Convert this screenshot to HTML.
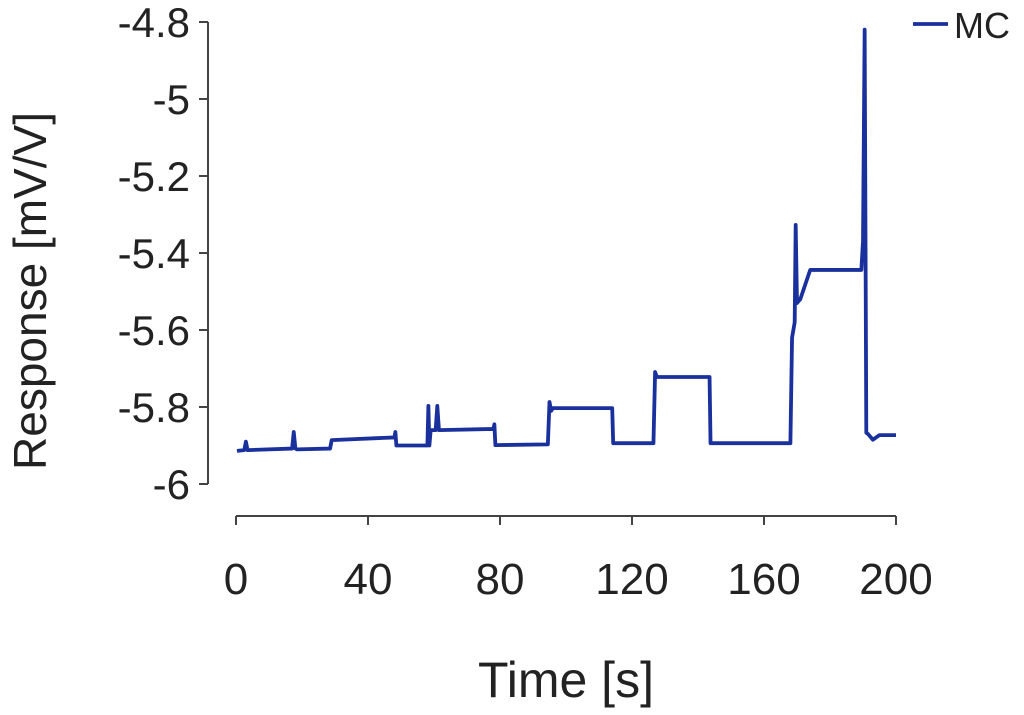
<!DOCTYPE html>
<html><head><meta charset="utf-8"><style>
body{margin:0;background:#fff;}
svg text{font-family:"Liberation Sans",sans-serif;fill:#222;}
</style></head><body>
<svg width="1024" height="710" xmlns="http://www.w3.org/2000/svg">
<g id="axes"></g>
<polyline id="series" fill="none" stroke="#1a309c" stroke-width="3.8" stroke-linejoin="round"/>
<line x1="913" y1="24" x2="948" y2="24" stroke="#1a309c" stroke-width="3.8"/>
<text x="954" y="38" font-size="36">MC</text>
<text x="566" y="697" font-size="50" text-anchor="middle">Time [s]</text>
<text transform="translate(46,291) rotate(-90)" font-size="46" text-anchor="middle">Response [mV/V]</text>
</svg>
<script>
const xTicks=[0,40,80,120,160,200];
const yTicks=[-4.8,-5,-5.2,-5.4,-5.6,-5.8,-6];
const yTickLabels=["-4.8","-5","-5.2","-5.4","-5.6","-5.8","-6"];
const times=[0.3,2.5,3,3.5,17,17.5,18,18.5,28.5,29,48,48.3,48.6,58,58.3,58.6,59,60.5,61,61.5,78,78.3,78.6,94.5,95,95.5,96,114,114.3,126.5,127,127.5,143.5,143.8,168,168.5,169.3,169.6,170,171,174,189.5,190,190.5,191,191.5,193,195,200];
const values=[-5.914,-5.912,-5.89,-5.912,-5.908,-5.865,-5.908,-5.91,-5.908,-5.886,-5.879,-5.865,-5.90,-5.90,-5.797,-5.90,-5.86,-5.86,-5.797,-5.86,-5.857,-5.845,-5.899,-5.897,-5.787,-5.81,-5.803,-5.803,-5.894,-5.894,-5.709,-5.722,-5.722,-5.894,-5.894,-5.62,-5.58,-5.327,-5.53,-5.52,-5.444,-5.444,-5.37,-4.82,-5.867,-5.87,-5.885,-5.873,-5.873];
const X=t=>236+t*3.3;
const Y=v=>22+(-4.8-v)*385;
const NS="http://www.w3.org/2000/svg";
const g=document.getElementById('axes');
function mk(tag,attrs){const e=document.createElementNS(NS,tag);for(const k in attrs)e.setAttribute(k,attrs[k]);g.appendChild(e);return e;}
let e=mk('line',{x1:208,y1:Y(-4.8),x2:208,y2:Y(-6),stroke:'#444','stroke-width':2});


e=mk('line',{x1:X(0),y1:516,x2:X(200),y2:516,stroke:'#444','stroke-width':2});


yTicks.forEach((v,i)=>{
 const t=mk('line',{x1:199,y1:Y(v),x2:208,y2:Y(v),stroke:'#444','stroke-width':2});
 
 
 const l=mk('text',{x:190,y:Y(v)+15,'font-size':42,'text-anchor':'end'});
 l.textContent=yTickLabels[i];
 
 
});
xTicks.forEach(v=>{
 const t=mk('line',{x1:X(v),y1:516,x2:X(v),y2:525,stroke:'#444','stroke-width':2});
 
 
 const l=mk('text',{x:X(v),y:594,'font-size':44,'text-anchor':'middle'});
 l.textContent=String(v);
 
 
});
document.getElementById('series').setAttribute('points',times.map((t,i)=>X(t)+','+Y(values[i])).join(' '));
</script>
</body></html>
